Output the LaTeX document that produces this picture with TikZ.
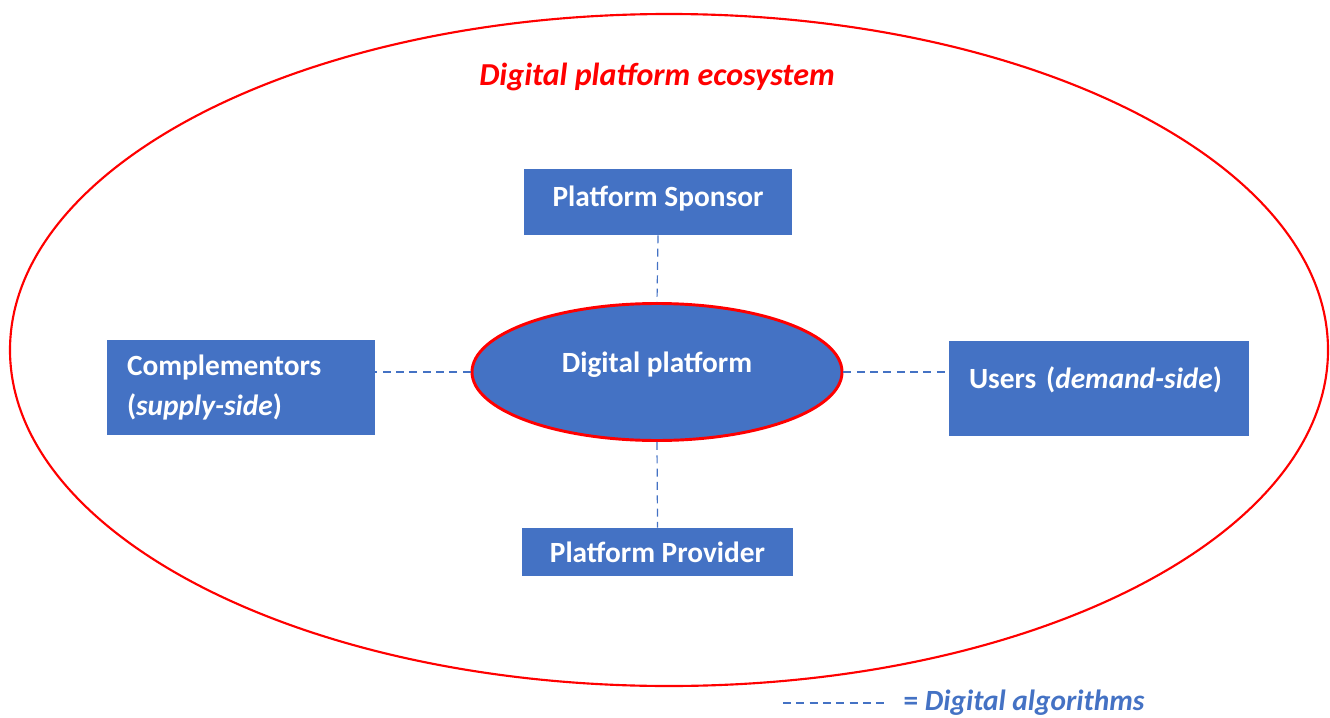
\documentclass[tikz,border=0pt]{standalone}
\usepackage{fontspec}
\setmainfont{Carlito}
\usetikzlibrary{shapes.geometric}
\definecolor{boxblue}{HTML}{4472C4}
\definecolor{ecored}{HTML}{FF0000}
\begin{document}
\begin{tikzpicture}[x=0.75pt, y=-0.75pt, font=\bfseries, line join=round,
		box/.style={fill=boxblue, text=white, inner sep=0pt, font=\bfseries\fontsize{22}{30}\selectfont},
		algo/.style={boxblue, line width=0.9pt, dash pattern=on 6pt off 4pt}]
			\def\px{0.75pt}
			\useasboundingbox (0,0) rectangle (1330,717);
			% ecosystem
			\draw[ecored, line width=1.6pt] (669,350) ellipse [x radius=659, y radius=336];
			\node (title) at (657,77) [ecored, font=\bfseries\itshape\fontsize{24}{28}\selectfont] {Digital platform ecosystem};
			% actors
			\node (sponsor) at (658,202) [box, minimum width=268*\px, minimum height=66*\px, text height=16pt, text depth=9pt] {Platform Sponsor};
			\node (provider) at (657.5,552) [box, minimum width=271*\px, minimum height=48*\px] {Platform Provider};
			\node (compl) at (241,387.5) [box, align=left, text width=228*\px, inner xsep=20*\px, minimum height=95*\px] {Complementors\\(\textit{supply-side})};
			\node (users) at (1099,388.5) [box, align=left, text width=260*\px, inner xsep=20*\px, minimum height=95*\px, text height=16pt, text depth=16pt] {Users (\textit{demand-side})};
			\node (platform) at (657,372) [box, ellipse, draw=ecored, line width=2.2pt, minimum width=370*\px, minimum height=137*\px, text height=16pt, text depth=16pt] {Digital platform};
			% algorithms
			\draw[algo] (sponsor.south) -- (platform.north);
			\draw[algo] (platform.south) -- (provider.north);
			\draw[algo] (platform.west) -- (platform.west -| compl.east);
			\draw[algo] (platform.east) -- (platform.east -| users.west);
			% legend
			\coordinate (legA) at (783,703);
			\coordinate (legB) at (885,703);
			\draw[algo] (legA) -- (legB);
			\node (legend) at (legB) [anchor=west, xshift=14*\px, boxblue, font=\bfseries\fontsize{22}{26}\selectfont] {= \textit{Digital algorithms}};
		\end{tikzpicture}
\end{document}
